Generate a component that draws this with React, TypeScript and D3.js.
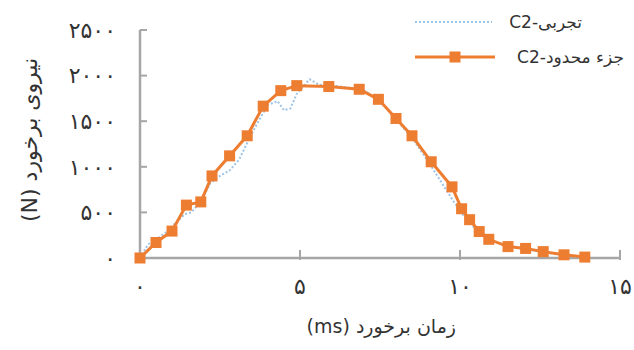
import React from "react";
import * as d3 from "d3";

const femTime = [0, 0.5, 1.0, 1.45, 1.9, 2.25, 2.8, 3.35, 3.85, 4.4, 4.9, 5.9, 6.85, 7.45, 8.0, 8.5, 9.1, 9.75, 10.05, 10.3, 10.6, 10.9, 11.5, 12.05, 12.6, 13.25, 13.9];
const femForce = [0, 170, 295, 580, 615, 900, 1120, 1340, 1665, 1835, 1890, 1880, 1850, 1740, 1530, 1340, 1055, 780, 540, 420, 290, 205, 125, 105, 70, 35, 10];

const expTime = [0, 0.25, 0.5, 0.8, 1.1, 1.4, 1.6, 1.9, 2.2, 2.5, 2.8, 3.1, 3.4, 3.7, 4.0, 4.3, 4.5, 4.7, 4.9, 5.1, 5.3, 5.6, 6.0, 6.5, 7.0, 7.5, 8.0, 8.5, 9.0, 9.4, 9.8, 10.2, 10.6, 11.0, 11.5, 12.0, 12.6, 13.2, 13.9];
const expForce = [0, 150, 200, 280, 380, 480, 500, 620, 820, 900, 960, 1080, 1300, 1500, 1680, 1720, 1620, 1640, 1800, 1880, 1960, 1900, 1890, 1870, 1840, 1720, 1520, 1320, 1060, 840, 620, 420, 280, 190, 130, 100, 65, 30, 5];

const xTicks = [0, 5, 10, 15];
const yTicks = [0, 500, 1000, 1500, 2000, 2500];
const xTickLabels = ["۰", "۵", "۱۰", "۱۵"];
const yTickLabels = ["۰", "۵۰۰", "۱۰۰۰", "۱۵۰۰", "۲۰۰۰", "۲۵۰۰"];

const xTitle = "زمان برخورد (ms)";
const yTitle = "نیروی برخورد (N)";
const legendExp = "تجربی-C2";
const legendFem = "جزء محدود-C2";

const W = 634;
const H = 350;
const ORANGE = "#ED7D31";
const BLUE = "#9DC3E6";
const AXIS = "#a6a6a6";
const TEXT = "#333333";
const FONT = "'DejaVu Sans', sans-serif";

export default function App() {
  const x = d3.scaleLinear().domain([0, 15]).range([140, 620]);
  const y = d3.scaleLinear().domain([0, 2500]).range([258, 30]);

  const line = d3
    .line<[number, number]>()
    .x((d) => x(d[0]))
    .y((d) => y(d[1]));

  const fem: [number, number][] = femTime.map((t, i) => [t, femForce[i]]);
  const exp: [number, number][] = expTime.map((t, i) => [t, expForce[i]]);

  const sq = 11;

  return (
    <svg
      width={W}
      height={H}
      style={{ position: "absolute", left: 0, top: 0, background: "#fff" }}
      fontFamily={FONT}
    >
      <rect x={0} y={0} width={W} height={H} fill="#fff" />
      {/* axes */}
      <line x1={x(0)} x2={x(0)} y1={y(2500)} y2={y(0)} stroke={AXIS} strokeWidth={2.5} />
      <line x1={x(0)} x2={x(15)} y1={y(0)} y2={y(0)} stroke={AXIS} strokeWidth={2.5} />
      {yTicks.map((v) => (
        <line key={"yt" + v} x1={x(0)} x2={x(0) + 7} y1={y(v)} y2={y(v)} stroke={AXIS} strokeWidth={2} />
      ))}
      {xTicks.map((v) => (
        <line key={"xt" + v} x1={x(v)} x2={x(v)} y1={y(0) - 8} y2={y(0) + 2} stroke={AXIS} strokeWidth={2} />
      ))}
      {/* tick labels */}
      {yTicks.map((v, i) => (
        <text
          key={"yl" + v}
          x={116}
          y={y(v)}
          dy="0.35em"
          textAnchor="end"
          fontSize={22}
          fill={TEXT}
        >
          {yTickLabels[i]}
        </text>
      ))}
      {xTicks.map((v, i) => (
        <text
          key={"xl" + v}
          x={x(v)}
          y={286}
          dy="0.35em"
          textAnchor="middle"
          fontSize={22}
          fill={TEXT}
        >
          {xTickLabels[i]}
        </text>
      ))}
      {/* axis titles */}
      <text x={456} y={326} dy="0.35em" textAnchor="start" fontSize={19} fill={TEXT} direction="rtl">
        {xTitle}
      </text>
      <text
        transform={`translate(29,${(y(0) + y(2500)) / 2 - 4}) rotate(-90)`}
        textAnchor="middle"
        dy="0.35em"
        fontSize={22}
        fill={TEXT}
      >
        <tspan direction="rtl" style={{ unicodeBidi: "embed", direction: "rtl" } as any}>{yTitle}</tspan>
      </text>
      {/* experimental */}
      <path
        d={line(exp) || ""}
        fill="none"
        stroke={BLUE}
        strokeWidth={2}
        strokeDasharray="2 2"
      />
      {/* FEM */}
      <path d={line(fem) || ""} fill="none" stroke={ORANGE} strokeWidth={3} />
      {fem.map((d, i) => (
        <rect
          key={"m" + i}
          x={x(d[0]) - sq / 2}
          y={y(d[1]) - sq / 2}
          width={sq}
          height={sq}
          fill={ORANGE}
        />
      ))}
      {/* legend */}
      <line x1={415} x2={492} y1={22} y2={22} stroke={BLUE} strokeWidth={2} strokeDasharray="2 2" />
      <text x={582} y={22} dy="0.35em" textAnchor="start" fontSize={17} fill={TEXT} direction="rtl">
        {legendExp}
      </text>
      <line x1={415} x2={495} y1={57} y2={57} stroke={ORANGE} strokeWidth={3} />
      <rect x={455 - sq / 2} y={57 - sq / 2} width={sq} height={sq} fill={ORANGE} />
      <text x={624} y={57} dy="0.35em" textAnchor="start" fontSize={17} fill={TEXT} direction="rtl">
        {legendFem}
      </text>
    </svg>
  );
}
